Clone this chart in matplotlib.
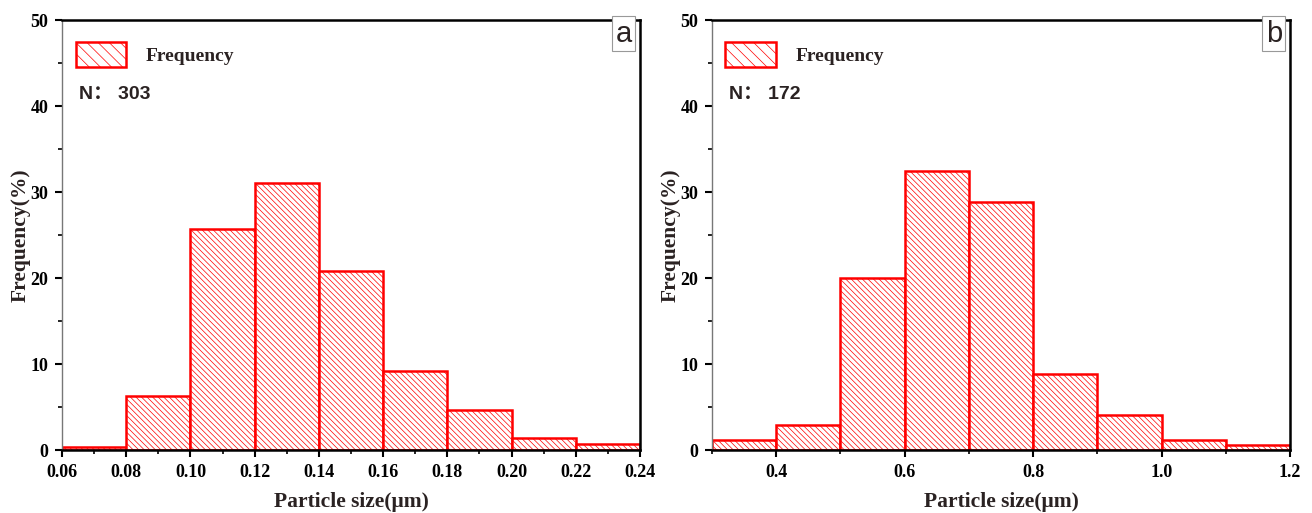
import matplotlib.pyplot as plt
from matplotlib.patches import Patch
from matplotlib.ticker import MultipleLocator

# panel a: bin edges and frequency (%)
edges_a = [0.06, 0.08, 0.10, 0.12, 0.14, 0.16, 0.18, 0.20, 0.22, 0.24]
freq_a = [0.35, 6.3, 25.7, 31.0, 20.8, 9.2, 4.6, 1.4, 0.7]
ticks_a = [0.06, 0.08, 0.10, 0.12, 0.14, 0.16, 0.18, 0.20, 0.22, 0.24]

# panel b
edges_b = [0.3, 0.4, 0.5, 0.6, 0.7, 0.8, 0.9, 1.0, 1.1, 1.2]
freq_b = [1.2, 2.9, 20.0, 32.4, 28.8, 8.8, 4.1, 1.2, 0.6]
ticks_b = [0.4, 0.6, 0.8, 1.0, 1.2]

serif = 'Liberation Serif'
red = '#ff0000'
dark = '#2a2222'

plt.rcParams['hatch.linewidth'] = 0.5
plt.rcParams['hatch.color'] = red
plt.rcParams['font.family'] = serif
plt.rcParams['font.weight'] = 'bold'


def draw_panel(ax, edges, freq, ticks, n_text, letter, minor_x, fmt):
    widths = [edges[i + 1] - edges[i] for i in range(len(freq))]
    ax.bar(edges[:-1], freq, width=widths, align='edge', facecolor='white',
           edgecolor=red, linewidth=1.8, hatch='\\' * 6)
    ax.set_xlim(edges[0], edges[-1])
    ax.set_ylim(0, 50)
    ax.set_xticks(ticks)
    ax.set_xticklabels([fmt.format(t) for t in ticks])
    ax.xaxis.set_minor_locator(MultipleLocator(minor_x))
    ax.yaxis.set_major_locator(MultipleLocator(10))
    ax.yaxis.set_minor_locator(MultipleLocator(5))
    ax.tick_params(which='major', direction='out', length=5, width=1.5,
                   labelsize=13, pad=5)
    ax.tick_params(which='minor', direction='out', length=3, width=1.2)
    for s in ['top', 'right', 'bottom']:
        ax.spines[s].set_linewidth(1.8)
        ax.spines[s].set_color('black')
    ax.spines['left'].set_color('#777777')
    ax.spines['left'].set_linewidth(1.0)

    ax.set_xlabel('Particle size(μm)', fontweight='bold',
                  fontsize=15.5, color=dark, labelpad=8)
    ax.set_ylabel('Frequency(%)', fontweight='bold',
                  fontsize=15.5, color=dark, labelpad=0)

    handle = Patch(facecolor='white', edgecolor=red, linewidth=1.8,
                   hatch='\\' * 3)
    leg = ax.legend([handle], ['Frequency'], loc='upper left',
                    bbox_to_anchor=(-0.007, 0.99), frameon=False,
                    handlelength=2.6, handleheight=1.6, handletextpad=1.0,
                    prop={'family': serif, 'weight': 'bold', 'size': 14})
    for t in leg.get_texts():
        t.set_color(dark)

    ax.text(0.03, 0.828, n_text, transform=ax.transAxes, fontsize=14,
            fontweight='bold', color=dark,
            family=['Liberation Sans', 'Noto Sans CJK SC'], va='center')

    ax.text(0.972, 0.968, letter, transform=ax.transAxes, fontsize=21,
            family='Liberation Sans', fontweight='normal', color=dark,
            ha='center', va='center',
            bbox=dict(boxstyle='square,pad=0.12', facecolor='white',
                      edgecolor='#999999', linewidth=0.8))


fig = plt.figure(figsize=(13.12, 5.13), dpi=100)
ax1 = fig.add_axes([0.0473, 0.1228, 0.4405, 0.838])
ax2 = fig.add_axes([0.5427, 0.1228, 0.4405, 0.838])

draw_panel(ax1, edges_a, freq_a, ticks_a, 'N： 303', 'a', 0.01, '{:.2f}')
draw_panel(ax2, edges_b, freq_b, ticks_b, 'N： 172', 'b', 0.1, '{:.1f}')

fig.savefig('out.png', dpi=100)
